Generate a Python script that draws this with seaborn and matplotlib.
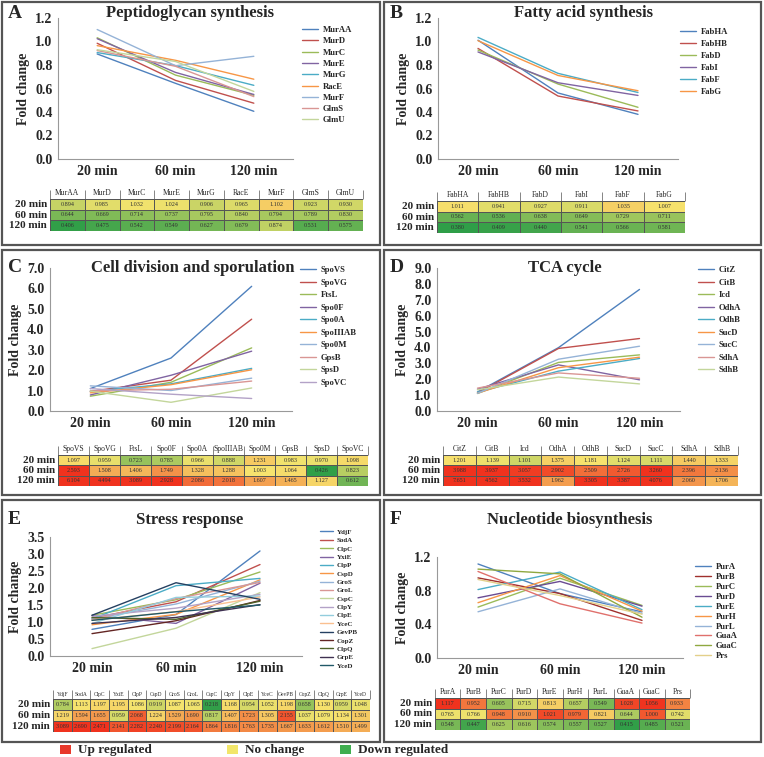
import numpy as np
import pandas as pd
import matplotlib
matplotlib.use('Agg')
import matplotlib.pyplot as plt
import seaborn as sns
from matplotlib.colors import LinearSegmentedColormap, TwoSlopeNorm
from matplotlib.patches import Rectangle

# ---- data ----
times = ['20 min', '60 min', '120 min']

pg_genes = ['MurAA', 'MurD', 'MurC', 'MurE', 'MurG', 'RacE', 'MurF', 'GlmS', 'GlmU']
pg_20 = [0.894, 0.985, 1.032, 1.024, 0.906, 0.965, 1.102, 0.923, 0.930]
pg_60 = [0.644, 0.669, 0.714, 0.737, 0.795, 0.840, 0.794, 0.789, 0.830]
pg_120 = [0.406, 0.475, 0.542, 0.549, 0.627, 0.679, 0.874, 0.531, 0.575]

fa_genes = ['FabHA', 'FabHB', 'FabD', 'FabI', 'FabF', 'FabG']
fa_20 = [1.011, 0.941, 0.927, 0.911, 1.035, 1.007]
fa_60 = [0.562, 0.536, 0.638, 0.649, 0.729, 0.711]
fa_120 = [0.380, 0.409, 0.440, 0.541, 0.566, 0.581]

cd_genes = ['SpoVS', 'SpoVG', 'FtsL', 'Spo0F', 'Spo0A', 'SpoIIIAB', 'Spo0M', 'GpsB', 'SpsD', 'SpoVC']
cd_20 = [1.097, 0.959, 0.723, 0.785, 0.966, 0.888, 1.231, 0.983, 0.970, 1.098]
cd_60 = [2.593, 1.508, 1.406, 1.749, 1.328, 1.288, 1.003, 1.064, 0.426, 0.823]
cd_120 = [6.104, 4.494, 3.089, 2.928, 2.086, 2.018, 1.607, 1.465, 1.127, 0.612]

tca_genes = ['CitZ', 'CitB', 'Icd', 'OdhA', 'OdhB', 'SucD', 'SucC', 'SdhA', 'SdhB']
tca_20 = [1.201, 1.139, 1.101, 1.375, 1.181, 1.124, 1.111, 1.440, 1.333]
tca_60 = [3.988, 3.937, 3.057, 2.902, 2.509, 2.726, 3.260, 2.396, 2.136]
tca_120 = [7.651, 4.562, 3.532, 1.962, 3.305, 3.387, 4.076, 2.060, 1.706]

st_genes = ['YdjF', 'SodA', 'ClpC', 'YxiE', 'ClpP', 'CspD', 'GroS', 'GroL', 'CspC',
            'ClpY', 'ClpE', 'YceC', 'GevPB', 'CopZ', 'ClpQ', 'GrpE', 'YceD']
st_20 = [0.784, 1.113, 1.197, 1.195, 1.086, 0.919, 1.087, 1.065, 0.218,
         1.168, 0.954, 1.052, 1.198, 0.658, 1.130, 0.959, 1.048]
st_60 = [1.219, 1.594, 1.655, 0.959, 2.068, 1.224, 1.529, 1.690, 0.817,
         1.407, 1.723, 1.305, 2.155, 1.037, 1.079, 1.134, 1.301]
st_120 = [3.089, 2.690, 2.471, 2.141, 2.282, 2.240, 2.199, 2.164, 1.864,
          1.816, 1.763, 1.735, 1.667, 1.633, 1.612, 1.510, 1.499]

nb_genes = ['PurA', 'PurB', 'PurC', 'PurD', 'PurE', 'PurH', 'PurL', 'GuaA', 'GuaC', 'Prs']
nb_20 = [1.117, 0.952, 0.605, 0.715, 0.813, 0.657, 0.549, 1.028, 1.056, 0.933]
nb_60 = [0.765, 0.766, 0.948, 0.910, 1.021, 0.979, 0.821, 0.644, 1.000, 0.742]
nb_120 = [0.548, 0.447, 0.625, 0.616, 0.574, 0.557, 0.527, 0.415, 0.485, 0.521]

# ---- style ----
office = ['#4F81BD', '#C0504D', '#9BBB59', '#8064A2', '#4BACC6', '#F79646',
          '#95B3D7', '#D99694', '#C3D69B', '#B3A2C7', '#93CDDD', '#FAC090',
          '#254061', '#632523', '#4F6228', '#3F3151', '#215968']
nb_colors = ['#4F81BD', '#A0302D', '#9BBB59', '#6A4C93', '#4BACC6', '#F79646',
             '#95B3D7', '#E0706C', '#8FA840', '#E3D08A']
heat = LinearSegmentedColormap.from_list('heat', ['#2f9e48', '#f6e46e', '#f0321e'])

sns.set_theme(style='white')
plt.rcParams['font.family'] = ['Liberation Serif', 'DejaVu Serif']

W, H = 764, 757
fig = plt.figure(figsize=(W / 100, H / 100), dpi=100)


def box(x, y, w, h):
    return [x / W, 1 - (y + h) / H, w / W, h / H]


def panel(letter, title, genes, v20, v60, v120, colors, ymax, ystep, frame, axb,
          title_x, title_y, leg, tabb, hfs, nrm):
    fx, fy, fw, fh = frame
    fig.add_artist(Rectangle((fx / W, 1 - (fy + fh) / H), fw / W, fh / H,
                             transform=fig.transFigure, fill=False,
                             edgecolor='#555555', lw=1.6))
    fig.text((fx + 6) / W, 1 - title_y / H, letter, fontsize=14, weight='bold',
             va='center', ha='left')
    fig.text(title_x / W, 1 - title_y / H, title, fontsize=12, weight='bold',
             va='center', ha='center')

    tab = pd.DataFrame([v20, v60, v120], index=times, columns=genes)
    long = tab.reset_index(names='time').melt(id_vars='time', var_name='gene',
                                              value_name='fold')
    long['pos'] = long['time'].map({t: i for i, t in enumerate(times)})

    ax = fig.add_axes(box(*axb))
    sns.lineplot(data=long, x='pos', y='fold', hue='gene', palette=colors,
                 ax=ax, linewidth=1.0)
    ax.set_xlim(-0.5, 2.5)
    ax.set_xticks([0, 1, 2], times)
    ax.set_ylim(0, ymax)
    yt = np.arange(0, ymax + 1e-6, ystep)
    ax.set_yticks(yt, ['%.1f' % v for v in yt])
    ax.set_xlabel('')
    ax.set_ylabel('Fold change', fontsize=10, weight='bold', labelpad=4)
    ax.tick_params(axis='both', labelsize=10, length=0, pad=4)
    for t in ax.get_xticklabels() + ax.get_yticklabels():
        t.set_fontweight('bold')
    for s in ['top', 'right']:
        ax.spines[s].set_visible(False)
    for s in ['left', 'bottom']:
        ax.spines[s].set_color('#999999')
        ax.spines[s].set_linewidth(0.8)

    lx, ly, fs, ls = leg
    handles, labels = ax.get_legend_handles_labels()
    ax.legend(handles, labels, loc='upper left', bbox_to_anchor=(lx / W, 1 - ly / H),
              bbox_transform=fig.transFigure, frameon=False, borderpad=0,
              borderaxespad=0, handlelength=1.8, handletextpad=0.6,
              labelspacing=ls, prop={'size': fs, 'weight': 'bold'})

    tax = fig.add_axes(box(*tabb))
    sns.heatmap(tab, ax=tax, cmap=heat,
                norm=TwoSlopeNorm(vcenter=nrm[1], vmin=nrm[0], vmax=nrm[2]),
                annot=True, fmt='.3f', annot_kws={'size': 4.4, 'color': '#333333'},
                linewidths=0.5, linecolor='#555555', cbar=False)
    tax.xaxis.tick_top()
    tax.set_xticks(np.arange(len(genes)) + 0.5, genes, rotation=0, fontsize=hfs)
    tax.set_yticks([0.5, 1.5, 2.5], times, rotation=0, fontsize=8,
                   fontweight='bold')
    tax.tick_params(axis='both', length=0, pad=2)
    tax.tick_params(axis='x', pad=1.5)
    tax.set_xlabel('')
    tax.set_ylabel('')
    tax.vlines(np.arange(len(genes) + 1), -0.85, 0, colors='#555555', lw=0.5,
               clip_on=False)


panel('A', 'Peptidoglycan synthesis', pg_genes, pg_20, pg_60, pg_120, office[:9],
      1.2, 0.2, (2, 2, 378, 243), (58, 18, 235, 141), 190, 13,
      (302, 26, 6.2, 0.38), (50, 199, 313, 32), 5.5, (0.40, 1.05, 1.45))
panel('B', 'Fatty acid synthesis', fa_genes, fa_20, fa_60, fa_120, office[:6],
      1.2, 0.2, (384, 2, 377, 243), (438, 18, 240, 141), 584, 13,
      (680, 28, 6.2, 0.45), (437, 201, 248, 32), 5.5, (0.38, 1.0, 1.3))
panel('C', 'Cell division and sporulation', cd_genes, cd_20, cd_60, cd_120, office[:10],
      7.0, 1.0, (2, 250, 378, 245), (50, 268, 242, 143), 193, 268,
      (300, 266, 6.2, 0.52), (58, 455, 310, 31), 5.5, (0.42, 1.0, 2.6))
panel('D', 'TCA cycle', tca_genes, tca_20, tca_60, tca_120, office[:9],
      9.0, 1.0, (384, 250, 377, 245), (437, 268, 243, 143), 565, 268,
      (698, 266, 6.2, 0.52), (443, 455, 295, 31), 5.5, (0.9, 1.15, 3.2))
panel('E', 'Stress response', st_genes, st_20, st_60, st_120, office,
      3.5, 0.5, (2, 500, 378, 242), (50, 537, 252, 119), 190, 520,
      (320, 529, 5.0, 0.36), (53, 699, 317, 33), 4.0, (0.2, 1.1, 2.4))
panel('F', 'Nucleotide biosynthesis', nb_genes, nb_20, nb_60, nb_120, nb_colors,
      1.2, 0.4, (384, 500, 377, 242), (437, 557, 246, 101), 570, 520,
      (695, 563, 6.2, 0.22), (435, 698, 255, 32), 5.5, (0.41, 0.78, 1.06))

# bottom key
key = [('Up regulated', '#e8382a', 60), ('No change', '#f2e66a', 227),
       ('Down regulated', '#3fae4f', 340)]
for name, col, x in key:
    fig.add_artist(Rectangle((x / W, 1 - 754 / H), 11 / W, 9 / H,
                             transform=fig.transFigure, color=col, lw=0))
    fig.text((x + 18) / W, 1 - 749.5 / H, name, fontsize=9.5, weight='bold',
             va='center', ha='left')

fig.savefig('out.png', dpi=100)
